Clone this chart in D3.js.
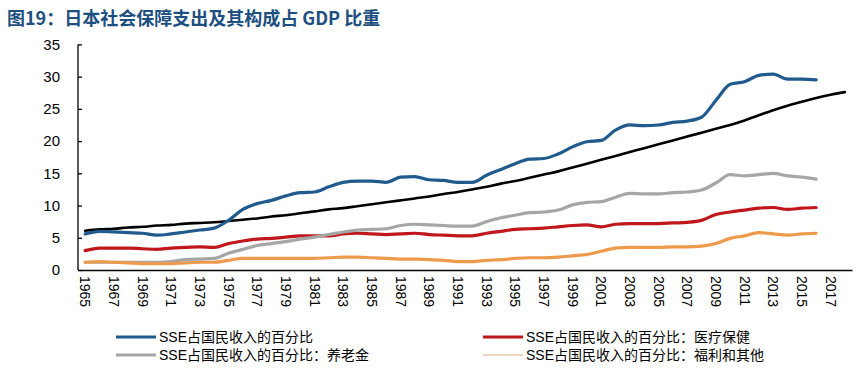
<html>
<head>
<meta charset="utf-8">
<title>日本社会保障支出</title>
<script src="https://d3js.org/d3.v7.min.js"></script>
<style>
  body { margin: 0; background: #fff; }
  text { font-family: "Liberation Sans", Arial, "Noto Sans CJK SC", sans-serif; }
</style>
</head>
<body>
<script>
// years on the x axis (trend line runs two years further than the data)
var years = [1965,1966,1967,1968,1969,1970,1971,1972,1973,1974,1975,1976,1977,1978,1979,
             1980,1981,1982,1983,1984,1985,1986,1987,1988,1989,1990,1991,1992,1993,1994,
             1995,1996,1997,1998,1999,2000,2001,2002,2003,2004,2005,2006,2007,2008,2009,
             2010,2011,2012,2013,2014,2015,2016,2017,2018];
var yTicks = [0, 5, 10, 15, 20, 25, 30, 35];

// series, 1965-2016
var total   = [5.6,6.0,5.9,5.8,5.7,5.4,5.6,5.9,6.2,6.5, 7.7,9.4,10.3,10.8,11.5,12.0,12.1,12.9,13.6,13.8,
               13.8,13.6,14.4,14.5,14.0,13.9,13.6,13.6,14.7,15.6, 16.5,17.2,17.3,18.0,19.1,19.9,20.1,21.7,22.5,22.4,
               22.5,22.9,23.1,23.7,26.3,28.8,29.2,30.2,30.4,29.6, 29.6,29.5];
var medical = [3.0,3.4,3.4,3.4,3.3,3.2,3.4,3.5,3.6,3.5, 4.1,4.5,4.8,4.9,5.1,5.3,5.3,5.3,5.6,5.7,
               5.6,5.5,5.6,5.7,5.5,5.4,5.3,5.3,5.7,6.0, 6.3,6.4,6.5,6.7,6.9,7.0,6.7,7.1,7.2,7.2,
               7.2,7.3,7.4,7.7,8.6,9.0,9.3,9.6,9.7,9.4, 9.6,9.7];
var pension = [1.2,1.2,1.2,1.2,1.2,1.2,1.3,1.6,1.7,1.8, 2.6,3.2,3.8,4.1,4.4,4.8,5.1,5.5,5.9,6.2,
               6.3,6.4,6.9,7.1,7.0,6.9,6.8,6.8,7.5,8.1, 8.5,8.9,9.0,9.3,10.1,10.5,10.6,11.3,11.9,11.8,
               11.8,12.0,12.1,12.4,13.5,14.8,14.6,14.8,15.0,14.6, 14.4,14.1];
var welfare = [1.2,1.3,1.2,1.1,1.0,1.0,1.0,1.1,1.2,1.2, 1.5,1.8,1.8,1.8,1.8,1.8,1.8,1.9,2.0,2.0,
               1.9,1.8,1.7,1.7,1.6,1.5,1.3,1.3,1.5,1.6, 1.8,1.9,1.9,2.0,2.2,2.4,2.9,3.4,3.5,3.5,
               3.5,3.6,3.6,3.7,4.1,4.9,5.3,5.8,5.6,5.4, 5.6,5.7];
// black trend line, 1965-2018
var trend   = [6.1,6.3,6.4,6.6,6.7,6.9,7.0,7.2,7.3,7.4, 7.6,7.8,8.0,8.3,8.5,8.8,9.1,9.4,9.6,9.9,
               10.2,10.5,10.8,11.1,11.4,11.8,12.1,12.5,12.9,13.4, 13.8,14.3,14.8,15.3,15.9,16.5,17.1,17.7,18.3,18.9,
               19.5,20.1,20.7,21.3,21.9,22.5,23.2,24.0,24.8,25.5, 26.1,26.7,27.2,27.6];

var seriesNames = ["SSE占国民收入的百分比", "SSE占国民收入的百分比：医疗保健",
                   "SSE占国民收入的百分比：养老金", "SSE占国民收入的百分比：福利和其他"];

var svg = d3.select("body").append("svg")
    .attr("width", 865)
    .attr("height", 369);

svg.append("text")
    .attr("x", 7).attr("y", 25)
    .attr("fill", "#1d4f80")
    .style("font-family", "'Noto Sans CJK SC', sans-serif")
    .style("font-weight", "bold")
    .style("font-size", "18px")
    .text("图19：日本社会保障支出及其构成占 GDP 比重");

var x = d3.scaleBand().domain(years).range([78, 852]).padding(0);
var y = d3.scaleLinear().domain([0, 35]).range([270, 44.4]);
function cx(yr) { return x(yr) + x.bandwidth() / 2; }

// y axis
var yAxis = svg.append("g")
    .attr("transform", "translate(78,0)")
    .call(d3.axisRight(y).tickValues(yTicks).tickSize(4).tickFormat(d3.format("d")));
yAxis.select(".domain").attr("stroke", "#000").attr("stroke-width", 1.3).attr("d", "M0,44.4V270");
yAxis.selectAll(".tick line").attr("stroke", "#000").attr("stroke-width", 1.3);
yAxis.selectAll(".tick text")
    .attr("x", -18).attr("text-anchor", "end")
    .style("font-size", "15px").attr("fill", "#000");

// x axis
var xAxis = svg.append("g")
    .attr("transform", "translate(0,270)")
    .call(d3.axisBottom(x).tickValues(years.filter(function(d){ return (d - 1965) % 2 === 0; })).tickSize(0));
xAxis.select(".domain").attr("stroke", "#000").attr("stroke-width", 1.3);
xAxis.selectAll(".tick text")
    .attr("transform", "rotate(90)")
    .attr("x", 6).attr("y", 0).attr("dy", "0.35em")
    .attr("text-anchor", "start")
    .style("font-size", "14px").attr("fill", "#000");

var line = d3.line()
    .x(function(d, i){ return cx(years[i]); })
    .y(function(d){ return y(d); })
    .curve(d3.curveMonotoneX);

var plots = [
  { data: trend,   color: "#000000", w: 2.6 },
  { data: total,   color: "#215a8c", w: 3.2 },
  { data: medical, color: "#c0171d", w: 3.2 },
  { data: pension, color: "#a6a6a6", w: 3.2 },
  { data: welfare, color: "#ee9a4d", w: 3.2 }
];
svg.selectAll("path.series").data(plots).enter()
    .append("path")
    .attr("class", "series")
    .attr("fill", "none")
    .attr("stroke", function(d){ return d.color; })
    .attr("stroke-width", function(d){ return d.w; })
    .attr("stroke-linejoin", "round")
    .attr("stroke-linecap", "round")
    .attr("d", function(d){ return line(d.data); });

// legend
var legendItems = [
  { name: seriesNames[0], color: "#215a8c", w: 3.2, lx: 116, ly: 337 },
  { name: seriesNames[1], color: "#c0171d", w: 3.2, lx: 483, ly: 337 },
  { name: seriesNames[2], color: "#a6a6a6", w: 3.2, lx: 116, ly: 355 },
  { name: seriesNames[3], color: "#d2ab78", w: 1,   lx: 483, ly: 355 }
];
var lg = svg.selectAll("g.legend").data(legendItems).enter()
    .append("g").attr("class", "legend")
    .attr("transform", function(d){ return "translate(" + d.lx + "," + d.ly + ")"; });
lg.append("line")
    .attr("x1", 0).attr("x2", 40).attr("y1", 0).attr("y2", 0)
    .attr("stroke", function(d){ return d.color; })
    .attr("stroke-width", function(d){ return d.w; });
lg.append("text")
    .attr("x", 43).attr("y", 0).attr("dy", "0.36em")
    .style("font-size", "14px").attr("fill", "#000")
    .text(function(d){ return d.name; });
</script>
</body>
</html>
